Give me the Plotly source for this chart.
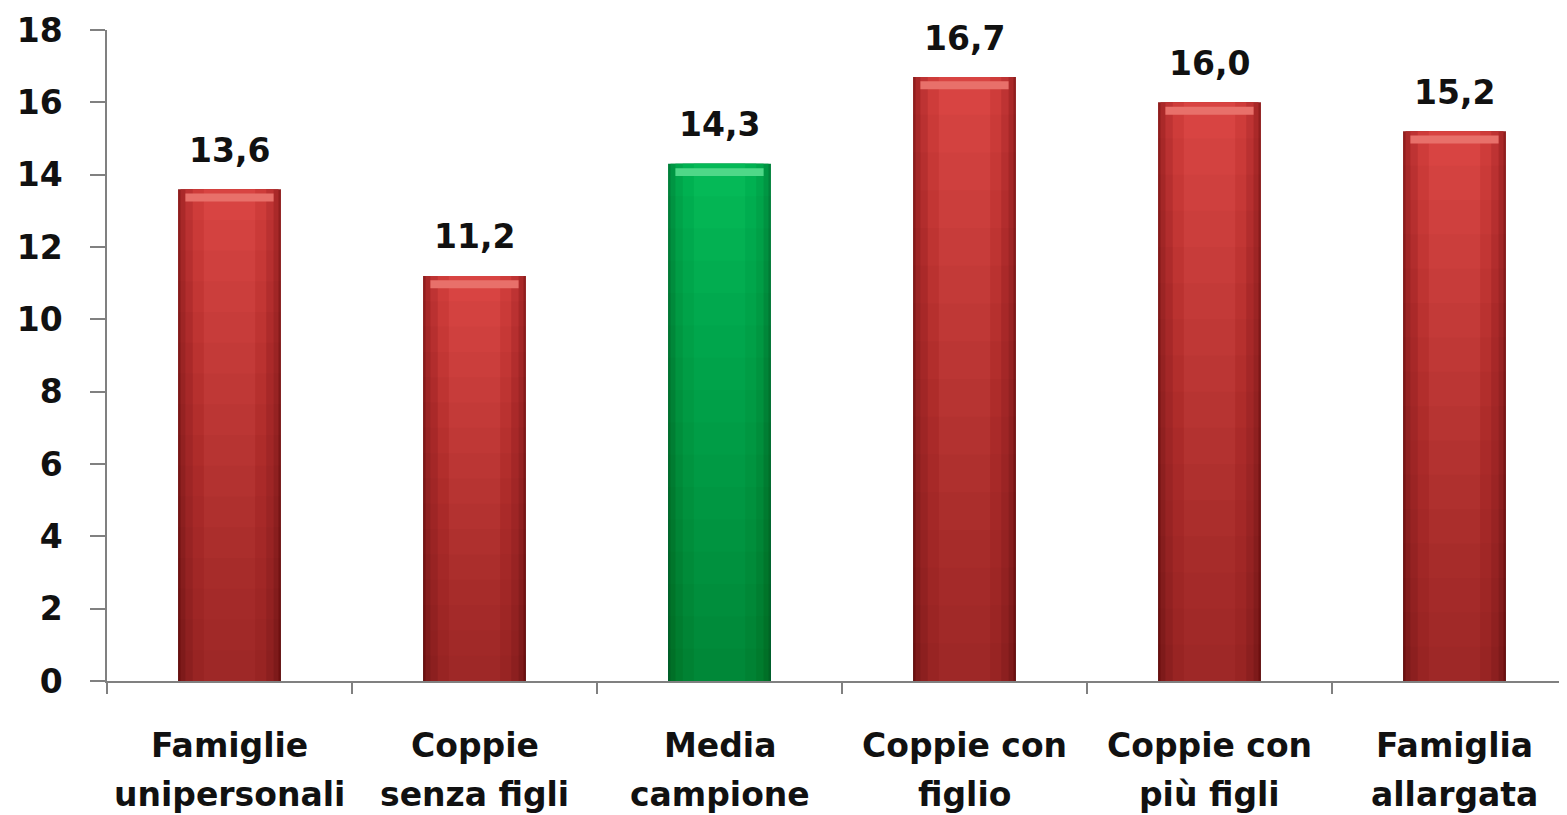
import plotly.graph_objects as go

cat_line1 = ["Famiglie", "Coppie", "Media", "Coppie con", "Coppie con", "Famiglia"]
cat_line2 = ["unipersonali", "senza figli", "campione", "figlio", "più figli", "allargata"]
categories = [a + " " + b for a, b in zip(cat_line1, cat_line2)]
values = [13.6, 11.2, 14.3, 16.7, 16.0, 15.2]
value_labels = ["13,6", "11,2", "14,3", "16,7", "16,0", "15,2"]
y_ticks = [0, 2, 4, 6, 8, 10, 12, 14, 16, 18]

red_shades = ["#901E1E", "#AA2929", "#BE3333", "#CE3C3A", "#D84442"]
green_shades = ["#00813A", "#009643", "#00A64B", "#00B151", "#05B957"]
widths = [0.42, 0.40, 0.36, 0.30, 0.21]

is_mean = [c.startswith("Media") for c in categories]

FONT = "DejaVu Sans"
TXT = "#111111"

fig = go.Figure()
for i, w in enumerate(widths):
    colors = [green_shades[i] if m else red_shades[i] for m in is_mean]
    fig.add_trace(go.Bar(x=categories, y=values, width=w, marker=dict(color=colors, line=dict(width=0)),
                         hoverinfo="skip", showlegend=False))

# vertical shading: darker toward the bottom
n_steps = 16
for k in range(1, n_steps):
    frac = k / n_steps
    shade = ["rgba(0,40,15,0.022)" if m else "rgba(60,0,0,0.022)" for m in is_mean]
    fig.add_trace(go.Bar(x=categories, y=[v * frac for v in values], width=0.42,
                         marker=dict(color=shade, line=dict(width=0)), hoverinfo="skip", showlegend=False))

# top highlight band
hl_colors = ["#4FD888" if m else "#E8706A" for m in is_mean]
fig.add_trace(go.Bar(x=categories, y=[0.22] * len(values), base=[v - 0.34 for v in values], width=0.36,
                     marker=dict(color=hl_colors, line=dict(width=0)), hoverinfo="skip", showlegend=False))

for c, v, t in zip(categories, values, value_labels):
    fig.add_annotation(x=c, y=v, text=t, showarrow=False, yanchor="middle", yshift=39,
                       font=dict(family=FONT, size=33, color=TXT, weight="bold"))

for c, l1, l2 in zip(categories, cat_line1, cat_line2):
    fig.add_annotation(x=c, y=0, text=l1, showarrow=False, yanchor="middle", yshift=-64,
                       font=dict(family=FONT, size=33, color=TXT, weight="bold"))
    fig.add_annotation(x=c, y=0, text=l2, showarrow=False, yanchor="middle", yshift=-113,
                       font=dict(family=FONT, size=33, color=TXT, weight="bold"))

fig.update_layout(
    width=1551, height=807,
    margin=dict(l=99, r=0, t=22, b=134),
    barmode="overlay",
    plot_bgcolor="white", paper_bgcolor="white",
    font=dict(family=FONT, color=TXT),
)
fig.update_xaxes(
    range=[-0.5, 5.5 - 18 / 245],
    showline=True, linecolor="#808080", linewidth=1.5,
    ticks="outside", tickson="boundaries", ticklen=11, tickcolor="#808080", tickwidth=1.5,
    showticklabels=False,
    showgrid=False, zeroline=False,
)
fig.update_yaxes(
    range=[0, 18], tickvals=y_ticks,
    showline=True, linecolor="#808080", linewidth=1.5,
    ticks="outside", ticklen=15, tickcolor="#808080", tickwidth=1.5,
    tickfont=dict(family=FONT, size=33, color=TXT, weight="bold"),
    ticklabelstandoff=21,
    showgrid=False, zeroline=False,
)

fig.write_html("out.html")
